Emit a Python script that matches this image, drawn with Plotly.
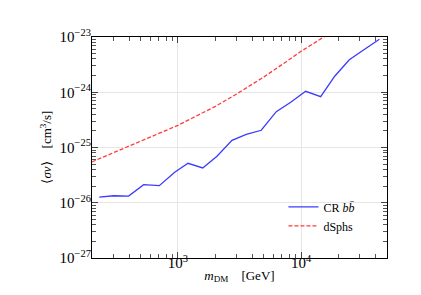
import plotly.graph_objects as go

# CR bb-bar limit
cr_mass = [229, 300, 397, 526, 705, 940, 1206, 1589, 2075, 2748, 3590, 4750,
           6295, 8245, 10915, 14450, 18790, 24700, 33340, 43370]
cr_sigv = [1.26e-26, 1.34e-26, 1.32e-26, 2.12e-26, 2.04e-26, 3.56e-26, 5.18e-26,
           4.26e-26, 6.93e-26, 1.35e-25, 1.73e-25, 2.05e-25, 4.45e-25, 6.58e-25,
           1.04e-24, 8.30e-25, 1.95e-24, 3.88e-24, 6.14e-24, 9.08e-24]

# dSphs limit
ds_mass = [200, 300, 450, 700, 1000, 1500, 2000, 3000, 5000, 7000, 10000, 15000, 20000]
ds_sigv = [5.5e-26, 8.1e-26, 1.21e-25, 1.82e-25, 2.52e-25, 3.99e-25, 5.5e-25,
           9.3e-25, 1.9e-24, 3.16e-24, 5.5e-24, 9.7e-24, 1.45e-23]

# axis ticks
x_tickvals = [1000, 10000]
x_ticktext = ["10<sup>3</sup>", "10<sup>4</sup>"]
y_tickvals = [1e-27, 1e-26, 1e-25, 1e-24, 1e-23]
y_ticktext = ["10<sup>\u221227</sup>", "10<sup>\u221226</sup>", "10<sup>\u221225</sup>",
              "10<sup>\u221224</sup>", "10<sup>\u221223</sup>"]

FONT = "Liberation Serif"

fig = go.Figure()
fig.add_trace(go.Scatter(x=cr_mass, y=cr_sigv, mode="lines",
                         line=dict(color="#3b3bff", width=1.3),
                         name="CR <i>b</i><i>b\u0304</i>"))
fig.add_trace(go.Scatter(x=ds_mass, y=ds_sigv, mode="lines",
                         line=dict(color="#ff3b3b", width=1.3, dash="4px,2px"),
                         name="dSphs"))

major = dict(
    type="log", showline=True, linecolor="black", linewidth=1.2, mirror="ticks",
    ticks="inside", ticklen=6, tickcolor="#444", tickwidth=1.3, tickmode="array",
    showgrid=True, gridcolor="#e6e6e6", gridwidth=1, zeroline=False,
    tickfont=dict(family=FONT, size=15, color="black"),
    minor=dict(ticks="inside", dtick="D1", ticklen=3.5, tickcolor="#555",
               tickwidth=1, showgrid=False),
)

fig.update_layout(
    width=421, height=295,
    margin=dict(l=84, r=42, t=29, b=45),
    paper_bgcolor="white", plot_bgcolor="white",
    font=dict(family=FONT, size=12, color="black"),
    xaxis=dict(major, range=[2.30103, 4.69897], tickvals=x_tickvals, ticktext=x_ticktext,
               ticklabelstandoff=-9,
               title=dict(text="<i>m</i><sub>DM</sub>    [GeV]", standoff=0,
                          font=dict(family=FONT, size=13))),
    yaxis=dict(major, range=[-27, -23], tickvals=y_tickvals, ticktext=y_ticktext,
               ticklabelstandoff=-3),
    legend=dict(x=0.91, y=0.08, xanchor="right", yanchor="bottom",
                bgcolor="rgba(0,0,0,0)", font=dict(family=FONT, size=12),
                tracegroupgap=2),
    showlegend=True,
    annotations=[dict(text="\u27e8<i>\u03c3v</i>\u27e9    [cm<sup>3</sup>/s]",
                      xref="paper", yref="paper", x=-0.159, y=0.5,
                      xanchor="center", yanchor="middle", textangle=-90,
                      showarrow=False, font=dict(family=FONT, size=13))],
)

fig.write_html("out.html")
